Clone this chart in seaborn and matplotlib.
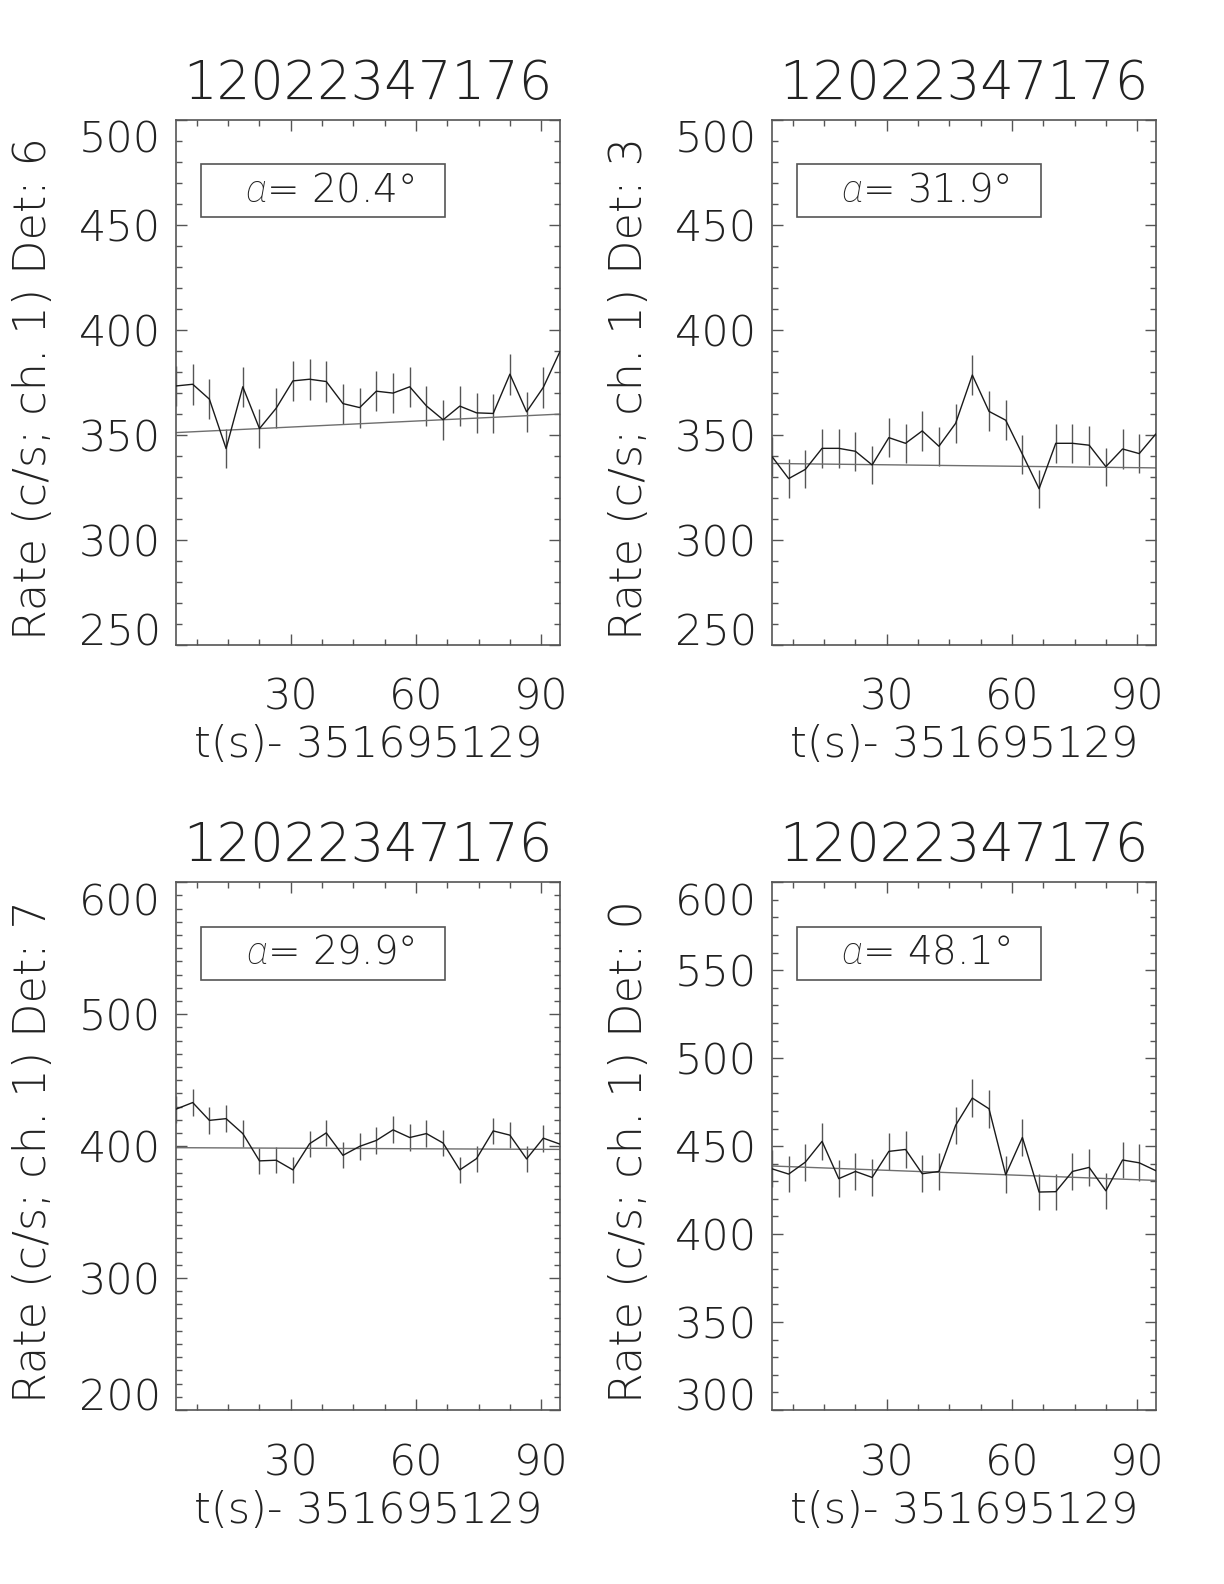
#!/usr/bin/env python3

# Four-panel light curve plot, one detector per panel.
import matplotlib
matplotlib.use('Agg')
import matplotlib.pyplot as plt
import matplotlib.ticker as mticker
from matplotlib.patches import Rectangle
import seaborn as sns

# Data.
t_bins = [2.5, 6.5, 10.5, 14.5, 18.5, 22.5, 26.5, 30.5, 34.5, 38.5, 42.5, 46.5,
          50.5, 54.5, 58.5, 62.5, 66.5, 70.5, 74.5, 78.5, 82.5, 86.5, 90.5, 94.5]

title = "12022347176"
xlabel = "t(s)- 351695129"
detectors = [6, 3, 7, 0]
angles = [20.4, 31.9, 29.9, 48.1]

rate_det6 = [373.3, 374.1, 367.0, 343.5, 372.9, 353.0, 362.7, 375.7, 376.5, 375.4, 364.9, 363.0,
             370.8, 369.9, 372.9, 363.8, 357.2, 363.7, 360.5, 360.2, 378.9, 361.0, 372.6, 389.7]
rate_det3 = [339.7, 329.2, 333.6, 343.6, 343.6, 342.2, 335.7, 348.7, 346.0, 351.9, 344.6, 355.5,
             378.5, 361.2, 357.0, 340.8, 324.4, 346.0, 346.0, 345.1, 334.9, 343.3, 341.1, 350.5]
rate_det7 = [428.0, 433.0, 419.5, 420.8, 409.5, 388.8, 389.3, 382.0, 401.8, 410.0, 393.0, 399.8,
             404.3, 412.3, 406.5, 409.5, 402.3, 382.0, 390.5, 411.5, 408.3, 390.3, 406.0, 401.5]
rate_det0 = [437.1, 434.1, 440.9, 452.7, 431.5, 435.6, 432.2, 447.0, 448.1, 434.3, 435.6, 461.8,
             477.3, 471.2, 433.7, 454.9, 423.9, 424.1, 435.6, 437.9, 424.6, 442.1, 440.5, 436.0]

err_det6 = [9.6, 9.7, 9.6, 9.3, 9.6, 9.4, 9.5, 9.7, 9.7, 9.7, 9.5, 9.5,
            9.6, 9.6, 9.6, 9.5, 9.5, 9.5, 9.5, 9.5, 9.7, 9.5, 9.6, 9.9]
err_det3 = [9.2, 9.1, 9.1, 9.3, 9.3, 9.3, 9.2, 9.3, 9.3, 9.4, 9.3, 9.4,
            9.7, 9.5, 9.4, 9.2, 9.0, 9.3, 9.3, 9.3, 9.1, 9.3, 9.2, 9.4]
err_det7 = [10.3, 10.4, 10.2, 10.3, 10.1, 9.9, 9.9, 9.8, 10.0, 10.1, 9.9, 10.0,
            10.1, 10.2, 10.1, 10.1, 10.0, 9.8, 9.9, 10.1, 10.1, 9.9, 10.1, 10.0]
err_det0 = [10.5, 10.4, 10.5, 10.6, 10.4, 10.4, 10.4, 10.6, 10.6, 10.4, 10.4, 10.7,
            10.9, 10.9, 10.4, 10.7, 10.3, 10.3, 10.4, 10.5, 10.3, 10.5, 10.5, 10.4]

fit_det6 = [351.1, 359.9]
fit_det3 = [336.4, 334.3]
fit_det7 = [398.8, 397.5]
fit_det0 = [438.7, 430.5]

rates = [rate_det6, rate_det3, rate_det7, rate_det0]
errors = [err_det6, err_det3, err_det7, err_det0]
fits = [fit_det6, fit_det3, fit_det7, fit_det0]
ylims = [(250, 500), (250, 500), (200, 600), (300, 600)]
ymajor = [50, 50, 100, 50]

sns.set_style("ticks")
plt.rcParams['font.family'] = ['DejaVu Sans']
plt.rcParams['font.weight'] = 200
plt.rcParams['axes.titleweight'] = 200
plt.rcParams['axes.labelweight'] = 200
plt.rcParams['mathtext.fontset'] = 'custom'
plt.rcParams['mathtext.it'] = 'Roboto:italic:light'
plt.rcParams['mathtext.rm'] = 'DejaVu Sans:weight=200'

fig = plt.figure(figsize=(12.24, 15.84), dpi=100)
positions = [[0.1438, 0.5928, 0.3137, 0.3316],
             [0.6307, 0.5928, 0.3137, 0.3316],
             [0.1438, 0.1098, 0.3137, 0.3333],
             [0.6307, 0.1098, 0.3137, 0.3333]]

line_col = "#1a1a1a"
err_col = "#555555"
fit_col = "#6e6e6e"
axis_col = "#555555"
text_col = "#222222"

axes = []
for i in range(4):
    ax = fig.add_axes(positions[i])
    axes.append(ax)

    # Error bars, data and the fitted background.
    ax.vlines(t_bins,
              [r - e for r, e in zip(rates[i], errors[i])],
              [r + e for r, e in zip(rates[i], errors[i])],
              color=err_col, lw=1.0, zorder=2)
    sns.lineplot(x=t_bins, y=rates[i], ax=ax, color=line_col, lw=1.0,
                 estimator=None, sort=False, zorder=3)
    sns.lineplot(x=[t_bins[0], t_bins[-1]], y=fits[i], ax=ax, color=fit_col,
                 lw=1.0, estimator=None, zorder=2)

    ax.set_xlim(t_bins[0], t_bins[-1])
    ax.set_ylim(*ylims[i])
    ax.xaxis.set_major_locator(mticker.MultipleLocator(30))
    ax.xaxis.set_minor_locator(mticker.MultipleLocator(7.5))
    ax.yaxis.set_major_locator(mticker.MultipleLocator(ymajor[i]))
    ax.yaxis.set_minor_locator(mticker.MultipleLocator(10))

    ax.tick_params(axis='both', which='both', direction='in', top=True, right=True,
                   color=axis_col, width=1.0)
    ax.tick_params(axis='both', which='major', length=8)
    ax.tick_params(axis='both', which='minor', length=4)
    ax.tick_params(axis='x', which='major', pad=23, labelsize=31, labelcolor=text_col)
    ax.tick_params(axis='y', which='major', pad=11, labelsize=31, labelcolor=text_col)
    for sp in ax.spines.values():
        sp.set_color(axis_col)
        sp.set_linewidth(1.2)

    ax.set_title(title, fontsize=38, y=1.04, pad=0, color=text_col)
    ax.set_xlabel(xlabel, fontsize=31, color=text_col)
    ax.xaxis.set_label_coords(0.5, -0.19)
    ax.xaxis.label.set_va('center')
    ax.set_ylabel("Rate (c/s; ch. 1) Det: {}".format(detectors[i]),
                  fontsize=32, color=text_col)
    ax.yaxis.set_label_coords(-0.372, 0.489)
    ax.yaxis.label.set_va('center')

    # Angle box.
    ax.add_patch(Rectangle((0.065, 0.815), 0.635, 0.1, transform=ax.transAxes,
                           fill=False, edgecolor=axis_col, lw=1.2, zorder=4))
    ax.text(0.40, 0.866, r"$\alpha$= {:.1f}°".format(angles[i]), transform=ax.transAxes,
            ha='center', va='center', fontsize=28, color=text_col)

# IDL-style end labels stay inside the axis range.
fig.canvas.draw()
for i, ax in enumerate(axes):
    for tick in ax.yaxis.get_major_ticks():
        if abs(tick.get_loc() - ylims[i][0]) < 1e-6:
            tick.label1.set_va('baseline')
        elif abs(tick.get_loc() - ylims[i][1]) < 1e-6:
            tick.label1.set_va('top')

fig.savefig("out.png", dpi=100)
plt.close()
